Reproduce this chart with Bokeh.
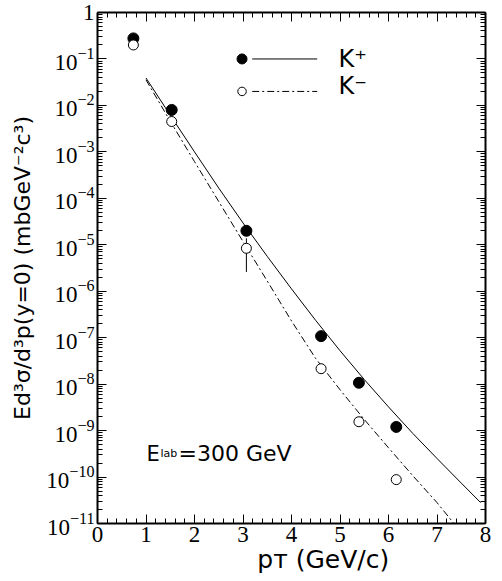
import math
from bokeh.plotting import figure
from bokeh.models import (LinearAxis, LogAxis, FixedTicker, SingleIntervalTicker,
                          Label, CustomJSTickFormatter, LogTickFormatter)
from bokeh.core.properties import value
from bokeh.embed import file_html
from bokeh.resources import INLINE

# ---------------- data ----------------
pt_points = [0.74, 1.53, 3.07, 4.61, 5.39, 6.16]
kplus_y = [0.277, 8.0e-3, 2.0e-5, 1.08e-7, 1.07e-8, 1.2e-9]
kminus_y = [0.20, 4.5e-3, 8.4e-6, 2.15e-8, 1.55e-9, 8.8e-11]

err_x = [3.07]
err_lo = [2.6e-6]
err_hi = [1.38e-5]

kplus_curve_pt = [1.0, 1.5, 2.0, 2.5, 3.0, 3.5, 4.0, 4.5, 5.0, 5.5, 6.0, 6.5, 7.0, 7.5, 7.9]
kplus_curve_log = [-1.41, -2.21, -3.00, -3.78, -4.53, -5.25, -5.95, -6.63, -7.28, -7.90,
                   -8.49, -9.06, -9.60, -10.13, -10.55]
kminus_curve_pt = [1.0, 1.5, 2.0, 2.5, 3.0, 3.5, 4.0, 4.5, 5.0, 5.5, 6.0, 6.5, 7.0, 7.35]
kminus_curve_log = [-1.45, -2.34, -3.21, -4.07, -4.93, -5.78, -6.64, -7.45, -8.12, -8.76,
                    -9.37, -9.97, -10.55, -11.0]

x_ticks = [0, 1, 2, 3, 4, 5, 6, 7, 8]
y_tick_exponents = [0, -1, -2, -3, -4, -5, -6, -7, -8, -9, -10, -11]

legend_labels = ["K\u207a", "K\u207b"]
x_title = "\u00a0" * 8 + "p\u1d1b (GeV/c)"
y_title = "Ed\u00b3\u03c3/d\u00b3p(y=0) (mbGeV\u207b\u00b2c\u00b3)"

# ---------------- layout / style ----------------
SERIF = "Liberation Serif"
SANS = "DejaVu Sans"
DASHDOT = "7 3 2 3"

p = figure(width=502, height=581, x_range=(0, 8), y_range=(1e-11, 1),
           y_axis_type="log", output_backend="svg", toolbar_location=None,
           min_border_left=97, min_border_right=17, min_border_top=12,
           min_border_bottom=58)
p.xgrid.visible = False
p.ygrid.visible = False
p.outline_line_color = None
p.background_fill_color = "white"
p.border_fill_color = "white"

yticker = FixedTicker(ticks=[10.0 ** e for e in y_tick_exponents],
                      minor_ticks=[k * 10.0 ** e for e in range(-11, 0) for k in range(2, 10)])
xticker = SingleIntervalTicker(interval=1, num_minor_ticks=5)
blank = CustomJSTickFormatter(code="return ''")


def style_axis(ax):
    ax.axis_line_width = 2
    ax.axis_line_color = "black"
    ax.major_tick_in = 9
    ax.major_tick_out = 0
    ax.minor_tick_in = 5
    ax.minor_tick_out = 0
    ax.major_tick_line_color = "black"
    ax.minor_tick_line_color = "black"
    ax.major_tick_line_width = 1
    ax.minor_tick_line_width = 1


# bottom axis
xa = p.xaxis[0]
xa.ticker = xticker
style_axis(xa)
xa.major_label_text_font = SERIF
xa.major_label_text_font_size = "23px"
xa.major_label_text_color = "black"
xa.major_label_standoff = 3
xa.axis_label = x_title
xa.axis_label_text_font = SANS
xa.axis_label_text_font_size = "25px"
xa.axis_label_text_font_style = "normal"
xa.axis_label_text_color = "black"
xa.axis_label_standoff = 0

# left axis
ya = p.yaxis[0]
ya.ticker = yticker
style_axis(ya)
ya.formatter = LogTickFormatter()
ya.major_label_overrides = {1: "1"}
ya.major_label_text_font = SERIF
ya.major_label_text_font_size = "23px"
ya.major_label_text_color = "black"
ya.major_label_standoff = 3
ya.axis_label = y_title
ya.axis_label_text_font = SANS
ya.axis_label_text_font_size = "22px"
ya.axis_label_text_font_style = "normal"
ya.axis_label_text_color = "black"
ya.axis_label_standoff = 8

# top and right axes
top = LinearAxis(ticker=xticker, formatter=blank)
style_axis(top)
top.major_label_standoff = 0
top.major_label_text_font_size = "0px"
p.add_layout(top, "above")

right = LogAxis(ticker=yticker, formatter=blank)
style_axis(right)
right.major_label_standoff = 0
right.major_label_text_font_size = "0px"
p.add_layout(right, "right")

# ---------------- curves ----------------
p.line(kplus_curve_pt, [10.0 ** v for v in kplus_curve_log], line_color="black", line_width=1)
p.line(kminus_curve_pt, [10.0 ** v for v in kminus_curve_log], line_color="black",
       line_width=1, line_dash=DASHDOT)

# ---------------- points ----------------
p.segment(x0=err_x, y0=err_lo, x1=err_x, y1=err_hi, line_color="black", line_width=1)
p.scatter(pt_points, kplus_y, marker="circle", size=11, fill_color="black", line_color="black")
p.scatter(pt_points, kminus_y, marker="circle", size=10, fill_color="white",
          line_color="black", line_width=1)

# ---------------- legend (drawn by hand) ----------------
leg_marker_x = 2.98
leg_line_x = [3.19, 4.53]
leg_y = [0.1, 0.02]
leg_text_x = 4.97
leg_text_y = [0.100, 0.026]
p.scatter([leg_marker_x], [leg_y[0]], marker="circle", size=10, fill_color="black", line_color="black")
p.scatter([leg_marker_x], [leg_y[1]], marker="circle", size=8.5, fill_color="white", line_color="black")
p.line(leg_line_x, [leg_y[0]] * 2, line_color="black", line_width=1)
p.line(leg_line_x, [leg_y[1]] * 2, line_color="black", line_width=1, line_dash=DASHDOT)
for t, yy in zip(legend_labels, leg_text_y):
    p.add_layout(Label(x=leg_text_x, y=yy, text=t, text_font=SANS, text_font_size="24px",
                       text_align="left", text_baseline="middle", text_color="black"))

# ---------------- E_lab annotation ----------------
p.add_layout(Label(x=49, x_units="screen", y=70, y_units="screen", text="E",
                   text_font=SANS, text_font_size="21px", text_align="left",
                   text_baseline="alphabetic", text_color="black"))
p.add_layout(Label(x=63, x_units="screen", y=70, y_units="screen", text="lab",
                   text_font=SANS, text_font_size="11px", text_align="left",
                   text_baseline="alphabetic", text_color="black"))
p.add_layout(Label(x=81, x_units="screen", y=70, y_units="screen", text="=300 GeV",
                   text_font=SANS, text_font_size="22px", text_align="left",
                   text_baseline="alphabetic", text_color="black"))

open("out.html", "w").write(file_html(p, INLINE))
